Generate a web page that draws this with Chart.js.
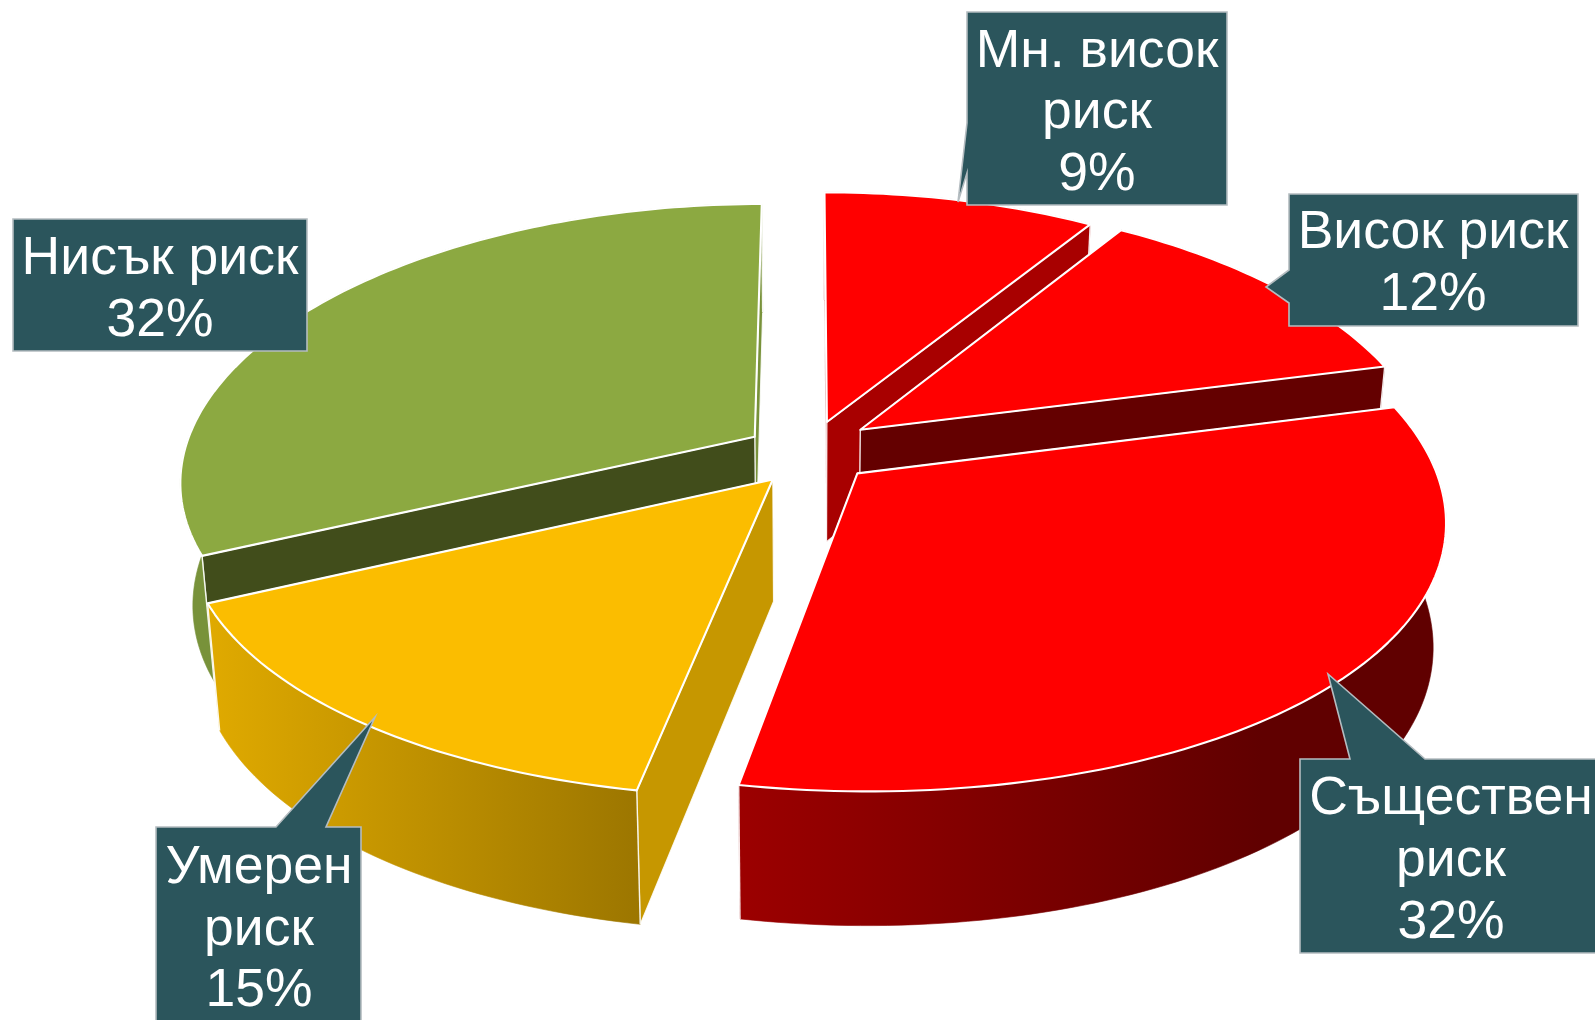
<!DOCTYPE html>
<html><head><meta charset="utf-8">
<style>html,body{margin:0;padding:0;background:#fff}#c{display:block}</style>
<script src="https://cdn.jsdelivr.net/npm/chart.js@4/dist/chart.umd.js"></script>
</head><body>
<canvas id="c" width="1595" height="1020"></canvas>
<script>
// ---- data ----
const categories = ['Мн. висок риск','Висок риск','Съществен риск','Умерен риск','Нисък риск'];
const values = [9,12,32,15,32];
const topColors = ['#FF0000','#FF0000','#FF0000','#FBBD00','#8CA941'];
const startWallColors = ['#A80000','#640000','#640000','#C69700','#414D1B'];
const endWallColors = ['#A80000','#640000','#640000','#C69700','#78923A'];
const rimFrom = ['#A80000','#640000','#9C0000','#E0AA00','#78923A'];
const rimTo = ['#A80000','#640000','#600000','#9C7600','#78923A'];
const explode = [48,49,55,44,45];
const nudgeX = [3,1,-4,4,0];
const nudgeY = [0,-3,-2,6,1];
const startWallInFront = [false,false,false,true,true];
const drawOrder = [0,1,4,3,2];

// ---- 3D view ----
const VIEW = {rx:571, ry:268, perspX:0.16, perspY:0.135, depth:121, depthPersp:0.1, bottomShrink:0.98};

// ---- callouts ----
const callouts = [
 {lines:['Мн. висок','риск','9%'], cx:1097, base:[66,127,189],
  outline:[[967,12],[1227,12],[1227,205],[967,205],[967,173],[958,202],[967,123]]},
 {lines:['Висок риск','12%'], cx:1433, base:[247,309],
  outline:[[1289,194],[1578,194],[1578,326],[1289,326],[1289,303],[1266,287],[1289,270]]},
 {lines:['Съществен','риск','32%'], cx:1451, base:[813,875,937],
  outline:[[1300,759],[1350,759],[1328,674],[1425,759],[1600,759],[1600,953],[1300,953]]},
 {lines:['Умерен','риск','15%'], cx:259, base:[882,944,1005],
  outline:[[156,827],[276,827],[375,717],[326,827],[361,827],[361,1024],[156,1024]]},
 {lines:['Нисък риск','32%'], cx:160, base:[273,335],
  outline:[[13,219],[307,219],[307,351],[13,351]]}
];

function project(c, a, r, off, mid, z){
  const u = r*Math.cos(a) + off*Math.cos(mid);
  const v = r*Math.sin(a) + off*Math.sin(mid);
  const sx = 1/(1 - VIEW.perspX*v), sy = 1/(1 - VIEW.perspY*v);
  const xs = z ? VIEW.bottomShrink : 1;
  return [
    c.x + u*VIEW.rx*sx*xs,
    c.y + v*VIEW.ry*sy + z*VIEW.depth*(1 + VIEW.depthPersp*v)
  ];
}
function poly(ctx, pts){
  ctx.beginPath();
  pts.forEach((p,i)=> i?ctx.lineTo(p[0],p[1]):ctx.moveTo(p[0],p[1]));
  ctx.closePath();
}
function wall(ctx, c, a, off, mid, color){
  const pts=[project(c,a,0,off,mid,0),project(c,a,1,off,mid,0),project(c,a,1,off,mid,1),project(c,a,0,off,mid,1)];
  poly(ctx,pts); ctx.fillStyle=color; ctx.fill();
  ctx.strokeStyle='rgba(255,255,255,.85)'; ctx.lineWidth=1.2; ctx.stroke();
}
const pie3d = {
  id:'pie3d',
  beforeDatasetDraw(chart){
    const ctx=chart.ctx, meta=chart.getDatasetMeta(0);
    drawOrder.forEach(i=>{
      const el=meta.data[i];
      const c={x:el.x+nudgeX[i],y:el.y+nudgeY[i]};
      const R=el.outerRadius, off=explode[i]/R, a0=el.startAngle, a1=el.endAngle, mid=(a0+a1)/2;
      const N=Math.max(12,Math.round((a1-a0)*50));
      const top=[],bot=[];
      for(let k=0;k<=N;k++){
        const a=a0+(a1-a0)*k/N;
        top.push(project(c,a,1,off,mid,0));
        bot.push(project(c,a,1,off,mid,1));
      }
      ctx.save(); ctx.lineJoin='round';
      if(startWallInFront[i]){
        wall(ctx,c,a1,off,mid,endWallColors[i]);
        wall(ctx,c,a0,off,mid,startWallColors[i]);
      }else{
        wall(ctx,c,a0,off,mid,startWallColors[i]);
        wall(ctx,c,a1,off,mid,endWallColors[i]);
      }
      const rim=top.concat(bot.slice().reverse());
      const xs=rim.map(p=>p[0]);
      const g=ctx.createLinearGradient(Math.min(...xs),0,Math.max(...xs),0);
      g.addColorStop(0,rimFrom[i]);
      g.addColorStop(i===2?0.74:1,rimTo[i]);
      g.addColorStop(1,rimTo[i]);
      poly(ctx,rim); ctx.fillStyle=g; ctx.fill();
      ctx.strokeStyle=g; ctx.lineWidth=0.6; ctx.stroke();
      ctx.strokeStyle='rgba(255,255,255,.9)'; ctx.lineWidth=1.4;
      [[top[0],bot[0]],[top[N],bot[N]]].forEach(s=>{ctx.beginPath();ctx.moveTo(s[0][0],s[0][1]);ctx.lineTo(s[1][0],s[1][1]);ctx.stroke();});
      const apex=project(c,mid,0,off,mid,0);
      poly(ctx,[apex].concat(top));
      ctx.fillStyle=topColors[i]; ctx.fill();
      ctx.strokeStyle='#fff'; ctx.lineWidth=2.1; ctx.stroke();
      ctx.restore();
    });
    return false;
  },
  afterDraw(chart){
    const ctx=chart.ctx;
    callouts.forEach(c=>{
      ctx.save();
      poly(ctx,c.outline);
      ctx.fillStyle='#2B555C'; ctx.fill();
      ctx.strokeStyle='#B4BCC0'; ctx.lineWidth=1.6; ctx.stroke();
      ctx.fillStyle='#fff'; ctx.font='53.5px "Liberation Sans"';
      ctx.textAlign='center'; ctx.textBaseline='alphabetic';
      c.lines.forEach((t,k)=>ctx.fillText(t,c.cx,c.base[k]+1));
      ctx.restore();
    });
  }
};
new Chart(document.getElementById('c'),{
  type:'pie',
  data:{labels:categories,datasets:[{data:values,backgroundColor:topColors,offset:explode,borderWidth:0}]},
  options:{
    responsive:false,animation:false,rotation:0,
    layout:{padding:{left:17,right:0,top:4,bottom:122}},
    plugins:{legend:{display:false},tooltip:{enabled:false}}
  },
  plugins:[pie3d]
});
</script>
</body></html>
